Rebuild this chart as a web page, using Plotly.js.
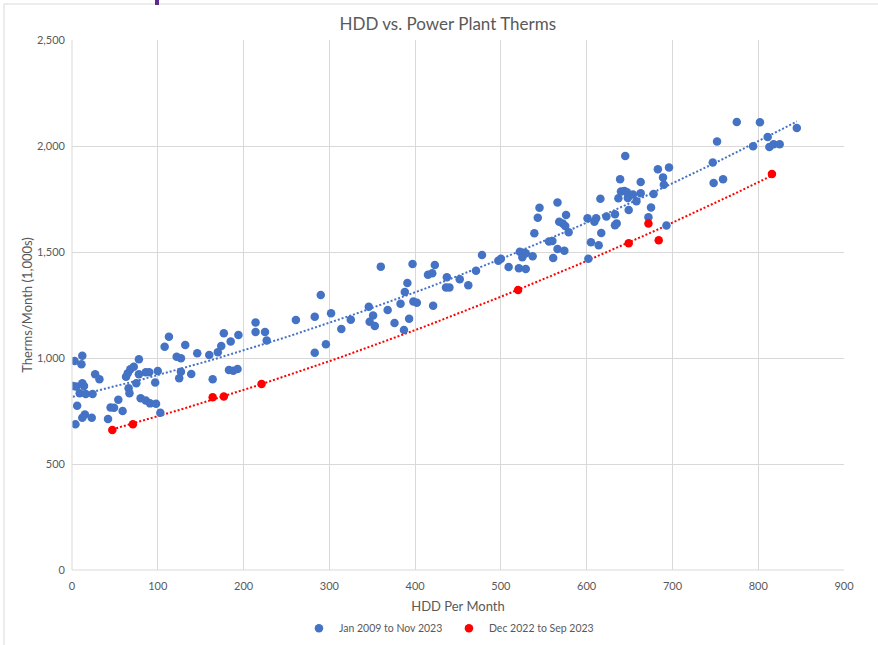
<!DOCTYPE html>
<html>
<head>
<meta charset="utf-8">
<script src="https://cdn.plot.ly/plotly-3.0.1.min.js"></script>
<style>html,body{margin:0;padding:0;background:#fff;}#chart{width:878px;height:645px;}</style>
</head>
<body>
<div id="chart"></div>
<script>
// Jan 2009 to Nov 2023 (HDD per month, therms per month in 1,000s)
const blueHDD = [3,12,11,27,32,1,5,12,14,9,16,24,6,15,12,23,4,45,49,54,42,59,63,65,68,72,78,78,86,90,100,75,66,67,97,80,86,91,98,103,108,113,122,127,132,146,127,139,125,160,164,170,174,177,185,194,183,188,193,214,214,225,227,261,283,290,302,283,296,314,325,346,351,347,353,360,368,376,383,388,391,393,387,398,402,397,415,420,423,421,437,436,440,452,462,471,478,497,500,509,521,529,522,526,529,525,537,561,539,543,545,566,576,568,572,575,579,556,560,566,574,602,605,614,617,601,611,609,616,623,633,635,633,637,639,640,644,647,648,645,649,654,658,663,663,672,675,678,683,689,690,696,693,747,748,752,759,775,802,794,811,813,818,825,845];
const blueTherms = [986,1011,970,923,900,868,865,881,868,834,830,830,775,734,718,718,687,767,765,803,712,750,912,928,947,959,994,923,933,933,939,881,857,834,884,810,800,786,784,742,1053,1100,1006,999,1061,1022,935,925,904,1014,900,1027,1057,1117,1078,1108,943,940,948,1123,1167,1123,1083,1179,1195,1297,1211,1025,1065,1137,1181,1242,1200,1171,1151,1431,1226,1165,1256,1311,1354,1185,1132,1266,1261,1443,1393,1400,1439,1247,1381,1333,1333,1371,1343,1412,1486,1459,1468,1429,1423,1420,1501,1497,1494,1475,1480,1472,1588,1662,1709,1733,1675,1643,1635,1623,1593,1549,1552,1514,1506,1468,1546,1532,1590,1659,1659,1643,1751,1667,1678,1635,1626,1753,1843,1785,1788,1782,1755,1953,1698,1771,1739,1830,1777,1664,1710,1774,1890,1852,1817,1899,1625,1922,1826,2021,1843,2113,2112,1999,2042,1995,2008,2008,2085];
// Dec 2022 to Sep 2023
const redHDD = [47,71,164,177,221,520,649,684,672,816];
const redTherms = [660,687,815,818,877,1321,1541,1555,1634,1868];

const seriesNames = ["Jan 2009 to Nov 2023", "Dec 2022 to Sep 2023"];
const xTicks = [0,100,200,300,400,500,600,700,800,900];
const yTicks = [0,500,1000,1500,2000,2500];

// Second-order polynomial trendline (least squares)
function polyTrend(xs, ys, steps) {
  const n = xs.length;
  let s = [0,0,0,0,0], t = [0,0,0];
  for (let i = 0; i < n; i++) {
    let p = 1;
    for (let k = 0; k < 5; k++) { s[k] += p; if (k < 3) t[k] += p * ys[i]; p *= xs[i]; }
  }
  const M = [[s[0],s[1],s[2],t[0]],[s[1],s[2],s[3],t[1]],[s[2],s[3],s[4],t[2]]];
  for (let c = 0; c < 3; c++) {
    for (let r = c + 1; r < 3; r++) {
      const f = M[r][c] / M[c][c];
      for (let k = c; k < 4; k++) M[r][k] -= f * M[c][k];
    }
  }
  const coef = [0,0,0];
  for (let r = 2; r >= 0; r--) {
    let v = M[r][3];
    for (let k = r + 1; k < 3; k++) v -= M[r][k] * coef[k];
    coef[r] = v / M[r][r];
  }
  const x0 = Math.min(...xs), x1 = Math.max(...xs);
  const tx = [], ty = [];
  for (let k = 0; k <= steps; k++) {
    const x = x0 + (x1 - x0) * k / steps;
    tx.push(x); ty.push(coef[0] + coef[1] * x + coef[2] * x * x);
  }
  return {x: tx, y: ty};
}

const blueC = "#4472C4", redC = "#FF0000";
const bt = polyTrend(blueHDD, blueTherms, 80);
const rt = polyTrend(redHDD, redTherms, 80);
const font = "Lato, 'Open Sans', sans-serif";

const traces = [
  {x: bt.x, y: bt.y, mode: "lines", type: "scatter", showlegend: false, hoverinfo: "skip",
   line: {color: blueC, width: 2, dash: "2px,2px"}},
  {x: rt.x, y: rt.y, mode: "lines", type: "scatter", showlegend: false, hoverinfo: "skip",
   line: {color: redC, width: 2, dash: "2px,2px"}},
  {x: blueHDD, y: blueTherms, mode: "markers", type: "scatter", name: seriesNames[0],
   marker: {color: blueC, size: 8.5, line: {width: 0}}},
  {x: redHDD, y: redTherms, mode: "markers", type: "scatter", name: seriesNames[1],
   marker: {color: redC, size: 8.5, line: {width: 0}}}
];

const px2x = p => (p - 72) / 772;
const px2y = p => (570 - p) / 530;

const layout = {
  width: 878, height: 645,
  paper_bgcolor: "#ffffff", plot_bgcolor: "#ffffff",
  margin: {l: 72, r: 34, t: 40, b: 75, pad: 0},
  font: {family: font, color: "#595959", size: 12},
  title: {text: "HDD vs. Power Plant Therms", font: {family: font, size: 17, color: "#595959"},
          x: 0.51, xanchor: "center", xref: "container", y: 0.962, yanchor: "middle", yref: "container"},
  xaxis: {range: [0, 900], tickvals: xTicks, showgrid: true, gridcolor: "#D9D9D9", gridwidth: 1,
          zeroline: false, showline: false, ticks: "", ticklabelstandoff: 8, tickfont: {size: 11, color: "#595959"},
          title: {text: "HDD Per Month", font: {size: 13, color: "#595959"}, standoff: 10}},
  yaxis: {range: [0, 2500], tickvals: yTicks, tickformat: ",d", showgrid: true, gridcolor: "#D9D9D9", gridwidth: 1,
          zeroline: false, showline: false, ticks: "", ticklabelstandoff: 6, tickfont: {size: 11, color: "#595959"},
          title: {text: "Therms/Month (1,000s)", font: {size: 13, color: "#595959"}, standoff: 1}},
  showlegend: true,
  legend: {orientation: "h", x: 0.3405, xref: "container", xanchor: "left", y: 0.026, yref: "container",
           yanchor: "middle", font: {size: 10.5, color: "#595959"}, itemwidth: 30, entrywidth: 105,
           traceorder: "normal"},
  shapes: [
    {type: "line", xref: "paper", yref: "paper", x0: 0, x1: 1, y0: 0, y1: 0, line: {color: "#D9D9D9", width: 1}},
    {type: "line", xref: "paper", yref: "paper", x0: 0, x1: 0, y0: 0, y1: 1, line: {color: "#D9D9D9", width: 1}},
    {type: "line", xref: "paper", yref: "paper", x0: px2x(4), x1: px2x(878), y0: px2y(4), y1: px2y(4), line: {color: "#D9D9D9", width: 1}},
    {type: "line", xref: "paper", yref: "paper", x0: px2x(4), x1: px2x(4), y0: px2y(4), y1: px2y(645), line: {color: "#D9D9D9", width: 1}},
    {type: "rect", xref: "paper", yref: "paper", x0: px2x(155), x1: px2x(159), y0: px2y(0), y1: px2y(5), line: {width: 0}, fillcolor: "#5B2D90"}
  ]
};

Plotly.newPlot("chart", traces, layout, {displayModeBar: false, staticPlot: true});
</script>
</body>
</html>
